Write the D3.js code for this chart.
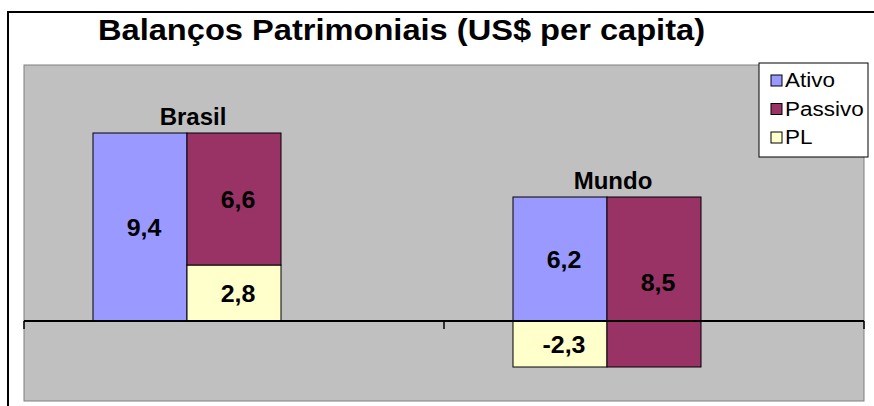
<!DOCTYPE html>
<html>
<head>
<meta charset="utf-8">
<script src="https://cdn.jsdelivr.net/npm/d3@7"></script>
<style>
  body { margin: 0; background: #fff; }
  svg { display: block; font-family: "Liberation Sans", Arial, sans-serif; }
</style>
</head>
<body>
<svg id="chart" width="874" height="406"></svg>
<script>
// Balancos patrimoniais
var categories = ["Brasil", "Mundo"];
var seriesNames = ["Ativo", "Passivo", "PL"];
var ativo = [9.4, 6.2];
var passivo = [6.6, 8.5];
var pl = [2.8, -2.3];
var seriesColors = ["#9999FF", "#993366", "#FFFFCC"];

(function () {
    "use strict";

    var svg = d3.select("#chart");
    var plot = { left: 24, right: 864, top: 65, bottom: 401 };

    var locale = d3.formatLocale({ decimal: ",", thousands: ".", grouping: [3], currency: ["US$", ""], minus: "-" });
    var fmt = locale.format(".1f");

    //Places a text at x,y with a small horizontal stretch
    function place(sel, fx, fy, sx) {
        sel.attr("transform", function (d, i) {
            return "translate(" + fx(d, i) + "," + fy(d, i) + ") scale(" + sx + ",1)";
        });
    }

    //Outer chart border (right/bottom fall outside the window)
    svg.append("rect")
        .attr("x", 8).attr("y", 12)
        .attr("width", 880).attr("height", 410)
        .attr("fill", "#fff")
        .attr("stroke", "#000").attr("stroke-width", 2);

    //Title
    svg.append("text")
        .attr("x", 98).attr("y", 40)
        .attr("textLength", 607)
        .attr("lengthAdjust", "spacingAndGlyphs")
        .style("font-size", "29px")
        .style("font-weight", "bold")
        .text("Balanços Patrimoniais (US$ per capita)");

    //Plot area
    svg.append("rect")
        .attr("x", plot.left).attr("y", plot.top)
        .attr("width", plot.right - plot.left).attr("height", plot.bottom - plot.top)
        .attr("fill", "#C0C0C0")
        .attr("stroke", "#808080").attr("stroke-width", 1);

    var x = d3.scaleBand().domain(categories).range([plot.left, plot.right]);
    var slot = d3.scaleBand().domain([0, 1, 2]).range([0, x.bandwidth()])
        .paddingInner(0).paddingOuter(0.734);
    var y = d3.scaleLinear().domain([-4, 12.8]).range([plot.bottom, plot.top]);

    //Segments: Ativo in slot 0, Passivo sits on PL in slot 1,
    //PL goes with Passivo when positive, under Ativo when negative
    var segs = [];
    categories.forEach(function (c, i) {
        segs.push({ cat: c, s: 0, slot: 0, y0: 0, y1: ativo[i], v: ativo[i] });
        segs.push({ cat: c, s: 2, slot: pl[i] >= 0 ? 1 : 0, y0: 0, y1: pl[i], v: pl[i] });
        segs.push({ cat: c, s: 1, slot: 1, y0: pl[i], y1: pl[i] + passivo[i], v: passivo[i] });
    });

    var g = svg.append("g");

    g.selectAll("rect.bar")
        .data(segs)
        .join("rect")
        .attr("class", "bar")
        .attr("x", function (d) { return x(d.cat) + slot(d.slot); })
        .attr("width", slot.bandwidth())
        .attr("y", function (d) { return y(Math.max(d.y0, d.y1)); })
        .attr("height", function (d) { return Math.abs(y(d.y0) - y(d.y1)); })
        .attr("fill", function (d) { return seriesColors[d.s]; })
        .attr("stroke", "#000").attr("stroke-width", 1);

    //Zero line and category ticks
    svg.append("line")
        .attr("x1", plot.left).attr("x2", plot.right)
        .attr("y1", y(0)).attr("y2", y(0))
        .attr("stroke", "#000").attr("stroke-width", 2);

    var tickXs = categories.map(function (c) { return x(c); }).concat([plot.right]);
    svg.selectAll("line.tick")
        .data(tickXs)
        .join("line")
        .attr("class", "tick")
        .attr("x1", function (d) { return d; }).attr("x2", function (d) { return d; })
        .attr("y1", y(0)).attr("y2", y(0) + 8)
        .attr("stroke", "#000").attr("stroke-width", 1.5);

    //Value labels
    g.selectAll("text.val")
        .data(segs)
        .join("text")
        .attr("class", "val")
        .call(place,
            function (d) { return x(d.cat) + slot(d.slot) + slot.bandwidth() / 2 + 4; },
            function (d) { return y((d.y0 + d.y1) / 2); }, 1.04)
        .attr("dy", "0.36em")
        .attr("text-anchor", "middle")
        .style("font-size", "24px")
        .style("font-weight", "bold")
        .text(function (d) { return fmt(d.v); });

    //Category labels above each group
    svg.selectAll("text.cat")
        .data(categories)
        .join("text")
        .attr("class", "cat")
        .call(place,
            function (c) { return x(c) + slot(1) + 6; },
            function (c, i) { return y(Math.max(ativo[i], pl[i] + passivo[i])) - 8; }, 1.0)
        .attr("text-anchor", "middle")
        .style("font-size", "24px")
        .style("font-weight", "bold")
        .text(function (c) { return c; });

    //Legend
    var lg = svg.append("g").attr("transform", "translate(759,63)");
    lg.append("rect")
        .attr("width", 109).attr("height", 94)
        .attr("fill", "#fff").attr("stroke", "#000").attr("stroke-width", 1);
    var items = lg.selectAll("g.item")
        .data(seriesNames)
        .join("g")
        .attr("class", "item")
        .attr("transform", function (d, i) { return "translate(12," + (24 + i * 28.5) + ")"; });
    items.append("rect")
        .attr("x", 0).attr("y", -12)
        .attr("width", 11).attr("height", 11)
        .attr("fill", function (d, i) { return seriesColors[i]; })
        .attr("stroke", "#000").attr("stroke-width", 1);
    items.append("text")
        .call(place, function () { return 14; }, function () { return 0; }, 1.07)
        .style("font-size", "21px")
        .text(function (d) { return d; });
})();
</script>
</body>
</html>
